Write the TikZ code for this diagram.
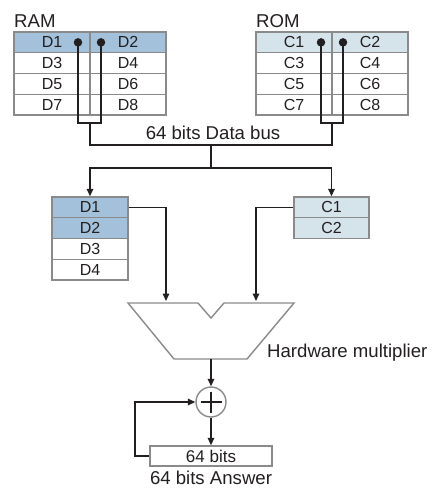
\documentclass[tikz,border=0pt]{standalone}
\usepackage{fontspec}
\setmainfont{Liberation Sans}
\usetikzlibrary{arrows.meta}
\definecolor{dblue}{HTML}{A3C1DA}
\definecolor{lblue}{HTML}{D5E3EB}
\definecolor{bord}{HTML}{8A8A8A}
\definecolor{ink}{HTML}{231F20}
\tikzset{
  cell/.style={draw=bord, line width=1.4pt, minimum width=76pt, minimum height=20.75pt, inner sep=0pt, font=\fontsize{16}{17}\selectfont, text=ink},
  lbl/.style={inner sep=0pt, font=\fontsize{18.6}{20}\selectfont, text=ink},
  wire/.style={draw=ink, line width=1.5pt},
  arr/.style={wire, -{Triangle[length=7.5pt,width=6.5pt]}},
  dot/.style={circle, fill=ink, inner sep=0pt, minimum size=8.5pt},
}
\begin{document}
\begin{tikzpicture}[x=1pt,y=-1pt]
\useasboundingbox (0,0) rectangle (433,488);
% labels
\node[lbl, anchor=west] (ramlbl) at (14,21) {RAM};
\node[lbl, anchor=west] (romlbl) at (256,21) {ROM};
% RAM table
\node[cell, fill=dblue] (r11) at (52,42.375) {D1};
\node[cell, fill=dblue] (r12) at (128,42.375) {D2};
\node[cell] (r21) at (52,63.125) {D3};
\node[cell] (r22) at (128,63.125) {D4};
\node[cell] (r31) at (52,83.875) {D5};
\node[cell] (r32) at (128,83.875) {D6};
\node[cell] (r41) at (52,104.625) {D7};
\node[cell] (r42) at (128,104.625) {D8};
% ROM table
\node[cell, fill=lblue] (o11) at (294,42.375) {C1};
\node[cell, fill=lblue] (o12) at (370,42.375) {C2};
\node[cell] (o21) at (294,63.125) {C3};
\node[cell] (o22) at (370,63.125) {C4};
\node[cell] (o31) at (294,83.875) {C5};
\node[cell] (o32) at (370,83.875) {C6};
\node[cell] (o41) at (294,104.625) {C7};
\node[cell] (o42) at (370,104.625) {C8};
% dots
\node[dot] (d1dot) at (78,42.375) {};
\node[dot] (d2dot) at (101,42.375) {};
\node[dot] (c1dot) at (321,42.375) {};
\node[dot] (c2dot) at (343,42.375) {};
% bus coordinates
\coordinate (ramL) at (78,123);
\coordinate (ramR) at (101,123);
\coordinate (ramM) at (90,123);
\coordinate (romL) at (321,123);
\coordinate (romR) at (343,123);
\coordinate (romM) at (332,123);
\coordinate (busL) at (90,145);
\coordinate (busR) at (332,145);
\coordinate (busC) at (211,145);
\coordinate (split) at (211,168);
\draw[wire] (d1dot.center) -- (ramL) -- (ramR) -- (d2dot.center);
\draw[wire] (c1dot.center) -- (romL) -- (romR) -- (c2dot.center);
\draw[wire] (ramM) -- (busL) -- (busR) -- (romM);
\draw[wire] (busC) -- (split);
\node[lbl] (buslbl) at (213,132.5) {64 bits Data bus};
% copies
\node[cell, fill=dblue] (cd1) at (90,207.375) {D1};
\node[cell, fill=dblue] (cd2) at (90,228.125) {D2};
\node[cell] (cd3) at (90,248.875) {D3};
\node[cell] (cd4) at (90,269.625) {D4};
\node[cell, fill=lblue, minimum width=75pt] (cc1) at (331.5,207.375) {C1};
\node[cell, fill=lblue, minimum width=75pt] (cc2) at (331.5,228.125) {C2};
\draw[arr] (split) -| (cd1.north);
\draw[arr] (split) -| (cc1.north);
% multiplier
\coordinate (mA) at (128,303);
\coordinate (mB) at (198,303);
\coordinate (mN) at (211,318);
\coordinate (mC) at (224,303);
\coordinate (mD) at (294,303);
\coordinate (mE) at (247,359);
\coordinate (mF) at (174,359);
\draw[draw=bord, line width=1.4pt, line join=miter] (mA) -- (mB) -- (mN) -- (mC) -- (mD) -- (mE) -- (mF) -- cycle;
\coordinate (minL) at (166,301);
\coordinate (minR) at (256,301);
\coordinate (mout) at (211,359);
\draw[arr] (cd1.east) -| (minL);
\draw[arr] (cc1.west) -| (minR);
\node[lbl, anchor=west] (multlbl) at (267,353) {Hardware multiplier};
% adder
\node[circle, draw=bord, line width=1.4pt, minimum size=30pt, inner sep=0pt] (add) at (211,402) {};
\draw[draw=ink, line width=2.8pt] (add.center) ++(-10.5,0) -- ++(21,0);
\draw[draw=ink, line width=2.8pt] (add.center) ++(0,-10.5) -- ++(0,21);
\draw[arr] (mout) -- (add.north);
% accumulator
\node[draw=bord, line width=1.4pt, minimum width=122pt, minimum height=20pt, inner sep=0pt, font=\fontsize{17}{18}\selectfont, text=ink] (acc) at (211,456) {64 bits};
\draw[arr] (add.south) -- (acc.north);
\coordinate (fbB) at (135,456);
\coordinate (fbT) at (135,402);
\draw[arr] (acc.west) -- (fbB) -- (fbT) -- (add.west);
\node[lbl] (anslbl) at (211,478) {64 bits Answer};
\end{tikzpicture}
\end{document}
